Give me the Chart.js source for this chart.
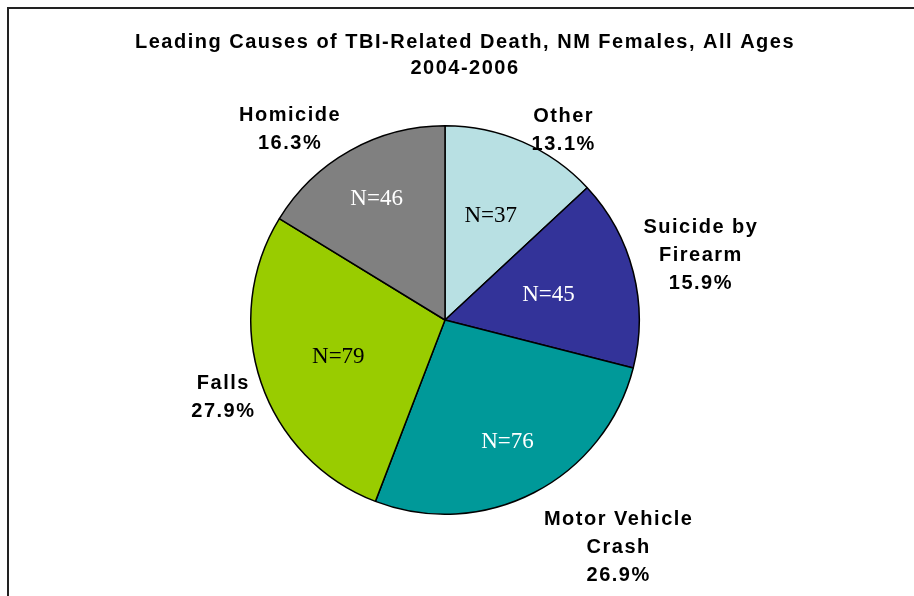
<!DOCTYPE html>
<html>
<head>
<meta charset="utf-8">
<title>TBI-Related Death, NM Females</title>
<script src="https://cdn.jsdelivr.net/npm/chart.js@4.4.1/dist/chart.umd.min.js"></script>
<style>
html, body { margin: 0; padding: 0; background: #fff; }
canvas { display: block; }
</style>
</head>
<body>
<canvas id="myChart" width="914" height="596"></canvas>
<script>
var causes = [['Other'], ['Suicide by', 'Firearm'], ['Motor Vehicle', 'Crash'], ['Falls'], ['Homicide']];
var deaths = [37, 45, 76, 79, 46];
var sliceColors = ['#B8E0E3', '#333399', '#009999', '#99CC00', '#808080'];
var countColors = ['#000000', '#ffffff', '#ffffff', '#000000', '#ffffff'];
var titleLines = ['Leading Causes of TBI-Related Death, NM Females, All Ages', '2004-2006'];

// label placement tweaks: outer label nudge in px, inner label distance as fraction of radius
var labelNudge = [[21, 35], [-8, 3], [46, -19], [11, -2], [-30, 32]];
var countDist = [0.59, 0.55, 0.70, 0.58, 0.72];

var boldFont = 'bold 20px "Liberation Sans", Arial, sans-serif';
var lineH = 28;

var total = deaths.reduce(function (a, b) { return a + b; }, 0);

var labelPlugin = {
  id: 'labels',
  beforeDraw: function (chart) {
    var ctx = chart.ctx;
    ctx.save();
    ctx.fillStyle = '#fff';
    ctx.fillRect(0, 0, chart.width, chart.height);
    // chart frame (left and top edges visible)
    ctx.strokeStyle = '#222';
    ctx.lineWidth = 2;
    ctx.beginPath();
    ctx.moveTo(8, chart.height + 5);
    ctx.lineTo(8, 8);
    ctx.lineTo(chart.width + 5, 8);
    ctx.stroke();
    // title
    ctx.font = boldFont;
    ctx.letterSpacing = '1.5px';
    ctx.fillStyle = '#000';
    ctx.textAlign = 'center';
    ctx.textBaseline = 'middle';
    titleLines.forEach(function (t, i) {
      ctx.fillText(t, 465, 42 + i * 26);
    });
    ctx.restore();
  },
  afterDatasetsDraw: function (chart) {
    var ctx = chart.ctx;
    var arcs = chart.getDatasetMeta(0).data;
    ctx.save();
    ctx.textAlign = 'center';
    ctx.textBaseline = 'middle';
    arcs.forEach(function (arc, i) {
      var p = arc.getProps(['x', 'y', 'startAngle', 'endAngle', 'outerRadius'], true);
      var mid = (p.startAngle + p.endAngle) / 2;
      var cx = Math.cos(mid), cy = Math.sin(mid);

      // count inside slice
      ctx.letterSpacing = '0px';
      ctx.font = '23px "Liberation Serif", "Times New Roman", serif';
      ctx.fillStyle = countColors[i];
      var d = p.outerRadius * countDist[i];
      ctx.fillText('N=' + deaths[i], p.x + cx * d, p.y + cy * d + 1);

      // name + percent outside slice
      ctx.font = boldFont;
      ctx.letterSpacing = '1.5px';
      ctx.fillStyle = '#000';
      var lines = causes[i].concat([(deaths[i] / total * 100).toFixed(1) + '%']);
      var w = 0;
      lines.forEach(function (l) { w = Math.max(w, ctx.measureText(l).width); });
      var h = lines.length * lineH;
      var ext = Math.abs(cx) * w / 2 + Math.abs(cy) * h / 2;
      var dist = p.outerRadius + 12 + ext;
      var bx = p.x + cx * dist + labelNudge[i][0];
      var by = p.y + cy * dist + labelNudge[i][1];
      lines.forEach(function (l, j) {
        ctx.fillText(l, bx, by + (j - (lines.length - 1) / 2) * lineH);
      });
    });
    ctx.restore();
  }
};

var pieChart = new Chart('myChart', {
  type: 'pie',
  data: {
    labels: causes.map(function (c) { return c.join(' '); }),
    datasets: [{
      data: deaths,
      backgroundColor: sliceColors,
      borderColor: '#000',
      borderWidth: 1.5,
      hoverOffset: 0,
      offset: 0
    }]
  },
  options: {
    responsive: false,
    animation: false,
    layout: { padding: { top: 125, bottom: 81, left: 250, right: 274 } },
    plugins: {
      legend: { display: false },
      tooltip: { enabled: false },
      title: { display: false }
    }
  },
  plugins: [labelPlugin]
});
</script>
</body>
</html>
